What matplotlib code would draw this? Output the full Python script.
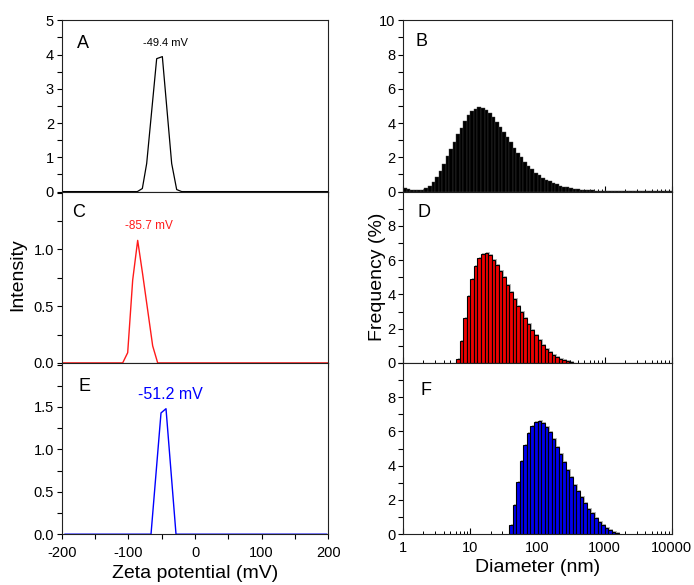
import numpy as np
import matplotlib
matplotlib.use("Agg")
import matplotlib.pyplot as plt
from matplotlib.ticker import MultipleLocator, LogLocator, NullFormatter, FuncFormatter
from matplotlib.transforms import ScaledTranslation

plt.rcParams['font.family'] = ['Liberation Sans', 'DejaVu Sans']
plt.rcParams['axes.unicode_minus'] = False

# zeta potential curves (mV, intensity)
zeta_a = [-200, -86.5, -79, -72.5, -57.5, -49, -35, -27.5, -20, 200]
int_a = [0, 0, 0.09, 0.82, 3.88, 3.94, 0.82, 0.06, 0, 0]

zeta_c = [-200, -108.5, -101, -93.5, -86, -78.5, -63.5, -56, 200]
int_c = [0, 0, 0.09, 0.73, 1.08, 0.78, 0.15, 0, 0]

zeta_e = [-195, -66, -51, -43.5, -28.5, 197.5]
int_e = [0, 0, 1.43, 1.48, 0, 0]

peak_labels = ["-49.4 mV", "-85.7 mV", "-51.2 mV"]

# DLS size classes: 76 log-spaced bins from 1 to 10000 nm
size_edges = np.logspace(0, 4, 77)

freq_b = [0.2, 0.17, 0.12, 0.08, 0.07, 0.1, 0.2, 0.33, 0.58, 0.88,
          1.23, 1.62, 2.05, 2.5, 2.92, 3.35, 3.74, 4.15, 4.48, 4.68,
          4.83, 4.93, 4.89, 4.78, 4.58, 4.35, 4.05, 3.76, 3.47, 3.16,
          2.87, 2.57, 2.28, 2.0, 1.75, 1.5, 1.31, 1.11, 0.95, 0.8,
          0.7, 0.6, 0.5, 0.42, 0.35, 0.29, 0.24, 0.2, 0.17, 0.14,
          0.12, 0.1, 0.08, 0.07, 0.06, 0.05, 0.04, 0.04, 0.03, 0.03,
          0.03, 0.03, 0.03, 0.03, 0.03, 0.03, 0.03, 0.03, 0.03, 0.03,
          0.03, 0.03, 0.03, 0.03, 0.03, 0.03]

start_d = 15
freq_d = [0.25, 1.26, 2.62, 3.88, 4.92, 5.65, 6.12, 6.36, 6.42, 6.27,
          6.03, 5.73, 5.38, 4.99, 4.57, 4.14, 3.75, 3.34, 2.97, 2.62,
          2.27, 1.94, 1.61, 1.36, 1.07, 0.84, 0.64, 0.49, 0.35, 0.23,
          0.16, 0.1, 0.06, 0.02]

start_f = 30
freq_f = [0.53, 1.72, 3.02, 4.25, 5.21, 5.89, 6.32, 6.54, 6.6, 6.48,
          6.24, 5.95, 5.56, 5.11, 4.68, 4.2, 3.75, 3.32, 2.89, 2.5,
          2.15, 1.8, 1.46, 1.21, 0.94, 0.72, 0.55, 0.39, 0.25, 0.14,
          0.06]

fig = plt.figure(figsize=(6.94, 5.85), dpi=100)
W, H = 694.0, 585.0
top = 20.3
ph = 171.3

def make_ax(x0, w, row):
    b = top + ph * (row + 1)
    return fig.add_axes([x0 / W, 1 - b / H, w / W, ph / H])

left_axes = [make_ax(61.7, 266.6, i) for i in range(3)]
right_axes = [make_ax(403.3, 268.4, i) for i in range(3)]

# ---- left column: zeta potential
zdata = [(zeta_a, int_a, 'black', 0.9), (zeta_c, int_c, '#ff1a1a', 1.0), (zeta_e, int_e, '#0000ff', 1.0)]
ylims = [(0, 5), (0, 1.51), (0, 2.02)]
yticks = [[0, 1, 2, 3, 4, 5], [0, 0.5, 1.0], [0, 0.5, 1.0, 1.5]]
yminor = [0.5, 0.25, 0.25]
letters_l = [("A", 0.056, 0.865), ("C", 0.04, 0.876), ("E", 0.062, 0.865)]
ann = [(-44.3, 4.34, 8, 'black'), (-68.7, 1.205, 8.5, '#ff1a1a'), (-36.8, 1.646, 11.5, '#0000ff')]

for i, ax in enumerate(left_axes):
    x, y, c, lw = zdata[i]
    ax.plot(x, y, color=c, lw=lw)
    ax.set_xlim(-200, 200)
    ax.set_ylim(*ylims[i])
    ax.set_yticks(yticks[i])
    ax.yaxis.set_minor_locator(MultipleLocator(yminor[i]))
    ax.xaxis.set_major_locator(MultipleLocator(100))
    ax.xaxis.set_minor_locator(MultipleLocator(50))
    ax.tick_params(which='both', direction='out', length=3.5, width=0.8, labelsize=10.5)
    ax.tick_params(axis='y', pad=2)
    ax.tick_params(axis='x', pad=5)
    if i < 2:
        ax.tick_params(axis='x', labelbottom=False)
    l, lx, ly = letters_l[i]
    ax.text(lx, ly, l, transform=ax.transAxes, fontsize=13, ha='left', va='center')
    ax_, ay_, fs, col = ann[i]
    ax.text(ax_, ay_, peak_labels[i], fontsize=fs, color=col, ha='center', va='center')

# ---- right column: size distributions
shadow = ScaledTranslation(1.5 / 100, 1.0 / 100, fig.dpi_scale_trans)

def draw_hist(ax, start, vals, face, edge, lw, with_shadow):
    edges = size_edges[start:start + len(vals) + 1]
    lo, hi = edges[:-1], edges[1:]
    if with_shadow:
        ax.bar(lo, vals, width=hi - lo, align='edge', color='0.72', lw=0,
               transform=ax.transData + shadow, zorder=1)
    else:
        # solid underlay so neighbouring bars leave no light seams
        ax.stairs(vals, edges, fill=True, color=face, zorder=1.5)
    ax.bar(lo, vals, width=hi - lo, align='edge', facecolor=face,
           edgecolor=edge, lw=lw, zorder=2)

draw_hist(right_axes[0], 0, freq_b, 'black', '0.25', 0.3, False)
draw_hist(right_axes[1], start_d, freq_d, '#ee0000', 'black', 0.8, True)
draw_hist(right_axes[2], start_f, freq_f, '#0000ee', 'black', 0.8, True)

letters_r = [("B", 0.046, 0.874), ("D", 0.052, 0.88), ("F", 0.064, 0.84)]
ryticks = [[0, 2, 4, 6, 8, 10], [0, 2, 4, 6, 8], [0, 2, 4, 6, 8]]
for i, ax in enumerate(right_axes):
    ax.set_xscale('log')
    ax.set_xlim(1, 10000)
    ax.set_ylim(0, 10)
    ax.set_yticks(ryticks[i])
    ax.yaxis.set_minor_locator(MultipleLocator(1))
    ax.xaxis.set_major_locator(LogLocator(base=10, numticks=10))
    ax.xaxis.set_minor_locator(LogLocator(base=10, subs=np.arange(2, 10), numticks=20))
    ax.xaxis.set_minor_formatter(NullFormatter())
    ax.xaxis.set_major_formatter(FuncFormatter(lambda v, p: '{:g}'.format(v)))
    ax.tick_params(axis='y', which='both', direction='out', length=3.5, width=0.8,
                   labelsize=10.5, pad=2)
    ax.tick_params(axis='x', which='major', direction='in', length=4, width=0.8,
                   labelsize=10.5, pad=5)
    ax.tick_params(axis='x', which='minor', direction='in', length=2.5, width=0.7)
    if i < 2:
        ax.tick_params(axis='x', labelbottom=False)
    l, lx, ly = letters_r[i]
    ax.text(lx, ly, l, transform=ax.transAxes, fontsize=13, ha='left', va='center')

for ax in left_axes + right_axes:
    for s in ax.spines.values():
        s.set_linewidth(0.8)
        s.set_color('#222222')
        s.set_zorder(5)

fig.text(18 / W, 1 - 275 / H, "Intensity", rotation=90, fontsize=14, ha='center', va='center')
fig.text(377 / W, 1 - 277 / H, "Frequency (%)", rotation=90, fontsize=14, ha='center', va='center')
fig.text(195 / W, 1 - 573 / H, "Zeta potential (mV)", fontsize=14, ha='center', va='center')
fig.text(537.5 / W, 1 - 567 / H, "Diameter (nm)", fontsize=14, ha='center', va='center')

fig.savefig("out.png", dpi=100)
